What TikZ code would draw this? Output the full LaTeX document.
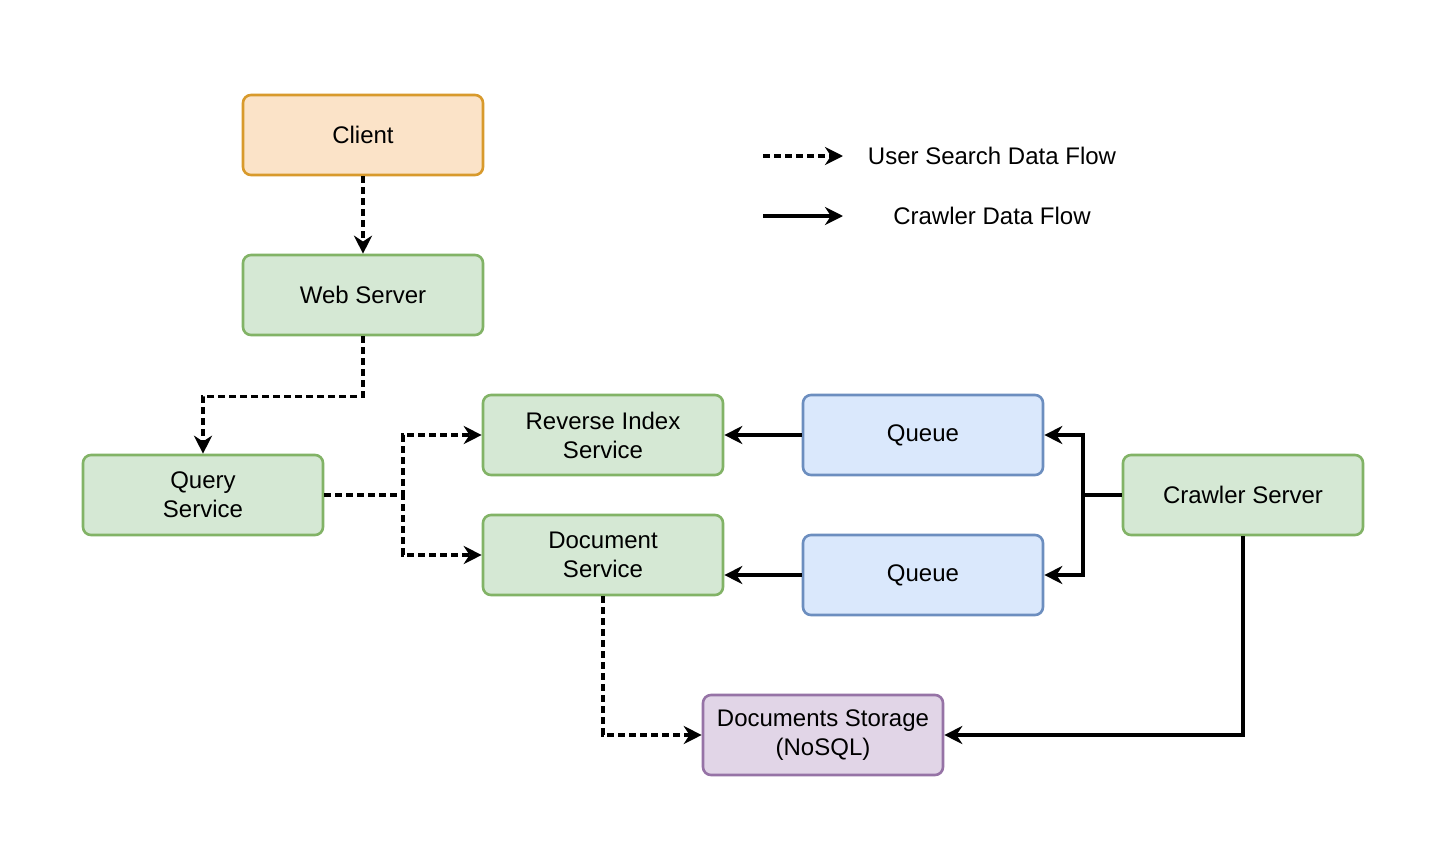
\documentclass[tikz,border=0pt]{standalone}
\usepackage{fontspec}
\setmainfont{Liberation Sans}
\usetikzlibrary{arrows.meta}
\definecolor{orfill}{HTML}{FBE3C8}
\definecolor{orline}{HTML}{D89A2C}
\definecolor{grfill}{HTML}{D5E8D4}
\definecolor{grline}{HTML}{82B366}
\definecolor{blfill}{HTML}{DAE8FC}
\definecolor{blline}{HTML}{6C8EBF}
\definecolor{pufill}{HTML}{E1D5E7}
\definecolor{puline}{HTML}{9673A6}
\tikzset{
  boxbase/.style={rectangle, rounded corners=4pt, line width=1.3pt, minimum width=120pt, minimum height=40pt, inner sep=0pt, align=center, font=\fontsize{12}{14.5}\selectfont},
  orbox/.style={boxbase, fill=orfill, draw=orline},
  grbox/.style={boxbase, fill=grfill, draw=grline},
  blbox/.style={boxbase, fill=blfill, draw=blline},
  pubox/.style={boxbase, fill=pufill, draw=puline},
  userflow/.style={line width=1.6pt, dash pattern=on 3.5pt off 2pt, -{Stealth[length=9pt,width=9pt]}},
  crawlflow/.style={line width=1.6pt, -{Stealth[length=9pt,width=9pt]}},
  legtext/.style={font=\fontsize{12}{14.5}\selectfont, anchor=center}
}
\begin{document}
\begin{tikzpicture}[x=0.5pt, y=-0.5pt]
\useasboundingbox (0,0) rectangle (1450,846);
\fill[white] (0,0) rectangle (1450,846);

\node[orbox] (client) at (363,135) {Client};
\node[grbox] (web) at (363,295) {Web Server};
\node[grbox] (query) at (203,495) {Query\\Service};
\node[grbox] (rev) at (603,435) {Reverse Index\\Service};
\node[grbox] (doc) at (603,555) {Document\\Service};
\node[blbox] (q1) at (923,435) {Queue};
\node[blbox] (q2) at (923,575) {Queue};
\node[grbox] (crawl) at (1243,495) {Crawler Server};
\node[pubox] (store) at (823,735) {Documents Storage\\(NoSQL)};

% legend
\coordinate (l1a) at (763,156);
\coordinate (l1b) at (843,156);
\coordinate (l2a) at (763,216);
\coordinate (l2b) at (843,216);
\draw[userflow] (l1a) -- (l1b);
\draw[crawlflow] (l2a) -- (l2b);
\node[legtext] (lt1) at (992,156) {User Search Data Flow};
\node[legtext] (lt2) at (992,216) {Crawler Data Flow};

% user search flow
\draw[userflow] (client) -- (web);
\draw[userflow] (web.south) -- ++(0,60) -| (query.north);
\draw[userflow] (query.east) -- (403,495) |- (rev.west);
\draw[userflow] (query.east) -- (403,495) |- (doc.west);
\draw[userflow] (doc.south) |- (store.west);

% crawler flow
\draw[crawlflow] (q1.west) -- (rev.east);
\draw[crawlflow] (q2.west) -- (doc.east |- q2.west);
\draw[crawlflow] (crawl.west) -- (1083,495) |- (q1.east);
\draw[crawlflow] (crawl.west) -- (1083,495) |- (q2.east);
\draw[crawlflow] (crawl.south) |- (store.east);
\end{tikzpicture}
\end{document}
